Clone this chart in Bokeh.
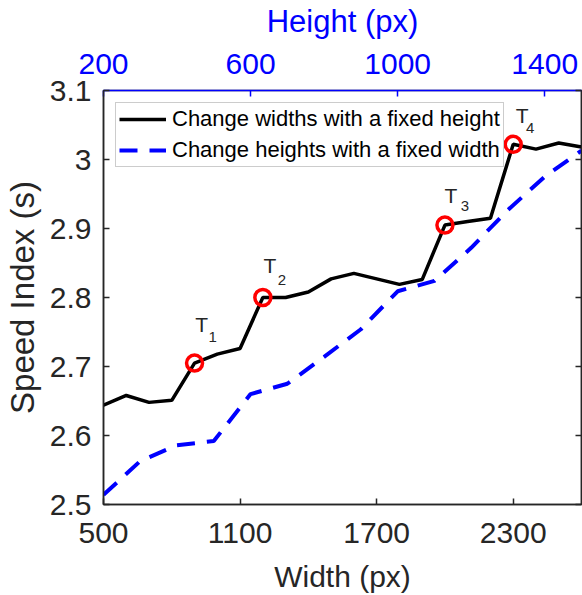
from bokeh.plotting import figure
from bokeh.models import (Range1d, LinearAxis, FixedTicker, Legend, LegendItem,
                          ColumnDataSource)
from bokeh.embed import file_html
from bokeh.resources import INLINE
from bokeh.core.properties import value

# ---------------- data ----------------
widths = [500, 600, 700, 800, 900, 1000, 1100, 1200, 1300, 1400, 1500,
          1600, 1700, 1800, 1900, 2000, 2100, 2200, 2300, 2400, 2500, 2600]
speed_width = [2.644, 2.658, 2.648, 2.651, 2.705, 2.718, 2.726, 2.800, 2.800,
               2.808, 2.827, 2.835, 2.827, 2.819, 2.826, 2.905, 2.910, 2.915,
               3.022, 3.015, 3.024, 3.018]

heights = [200, 300, 400, 500, 600, 700, 800, 900, 1000, 1100, 1200, 1300,
           1400, 1500]
speed_height = [2.514, 2.563, 2.586, 2.592, 2.660, 2.675, 2.714, 2.754, 2.809,
                2.824, 2.872, 2.927, 2.975, 3.013]

t_names = ["1", "2", "3", "4"]
t_widths = [900, 1200, 2000, 2300]

x_ticks = [500, 1100, 1700, 2300]
h_ticks = [200, 600, 1000, 1400]
y_ticks = [2.5, 2.6, 2.7, 2.8, 2.9, 3.0, 3.1]
y_tick_labels = ["2.5", "2.6", "2.7", "2.8", "2.9", "3", "3.1"]

series_labels = ["Change widths with a fixed height",
                 "Change heights with a fixed width"]
x_title = "Width (px)"
h_title = "Height (px)"
y_title = "Speed Index (s)"

# ---------------- style ----------------
FONT = "Liberation Sans"
AX = "#262626"
BLUE = "#0000FF"
RED = "#FF0000"

p = figure(width=582, height=595,
           x_range=Range1d(500, 2600), y_range=Range1d(2.5, 3.1),
           output_backend="svg", toolbar_location=None,
           min_border_left=102, min_border_right=1,
           min_border_top=88, min_border_bottom=88,
           x_axis_label=x_title, y_axis_label=y_title)
p.extra_x_ranges = {"h": Range1d(200, 1500)}
p.xgrid.visible = False
p.ygrid.visible = False
p.outline_line_color = AX
p.outline_line_width = 1.5
p.background_fill_color = "white"
p.border_fill_color = "white"


def style_axis(ax, color, ticks, standoff, label_standoff, label_size):
    ax.ticker = FixedTicker(ticks=ticks)
    ax.minor_tick_line_color = None
    ax.major_tick_in = 6
    ax.major_tick_out = 0
    ax.major_tick_line_color = color
    ax.major_tick_line_width = 1.5
    ax.axis_line_color = color
    ax.axis_line_width = 1.5
    ax.major_label_text_font = FONT
    ax.major_label_text_font_size = "30px"
    ax.major_label_text_color = color
    ax.major_label_standoff = standoff
    ax.axis_label_text_font = FONT
    ax.axis_label_text_font_size = label_size
    ax.axis_label_text_font_style = "normal"
    ax.axis_label_text_color = color
    ax.axis_label_standoff = label_standoff


style_axis(p.xaxis[0], AX, x_ticks, 18, 14, "30px")
style_axis(p.yaxis[0], AX, y_ticks, 12, 6, "33px")
p.yaxis[0].major_label_overrides = dict(zip(y_ticks, y_tick_labels))

top = LinearAxis(x_range_name="h", axis_label=h_title)
style_axis(top, BLUE, h_ticks, 17, 12, "31px")
p.add_layout(top, "above")

right = LinearAxis()
style_axis(right, AX, y_ticks, 0, 0, "30px")
right.major_label_text_font_size = "0px"
right.major_label_text_alpha = 0
p.add_layout(right, "right")

# ---------------- series ----------------
r_w = p.line(widths, speed_width, line_color="black", line_width=3.5)
r_h = p.line(heights, speed_height, x_range_name="h", line_color=BLUE,
             line_width=4, line_dash="18 12")

t_vals = [speed_width[widths.index(w)] for w in t_widths]
p.scatter(t_widths, t_vals, marker="circle", size=16, fill_color=None,
          line_color=RED, line_width=3.5)

lab = ColumnDataSource(dict(
    x=t_widths, y=t_vals, t=["T"] * len(t_names), sub=t_names,
    tdx=[7, 7, 6, 9], tdy=[-39, -32, -30, -29],
    sdx=[18, 19, 20, 17], sdy=[-26, -18, -19, -16]))
p.text(x="x", y="y", text="t", source=lab, x_offset="tdx", y_offset="tdy",
       text_align="center", text_baseline="middle",
       text_font=value(FONT), text_font_size="21px", text_color=AX)
p.text(x="x", y="y", text="sub", source=lab, x_offset="sdx", y_offset="sdy",
       text_align="center", text_baseline="middle",
       text_font=value(FONT), text_font_size="15px", text_color=AX)

legend = Legend(items=[LegendItem(label=series_labels[0], renderers=[r_w]),
                       LegendItem(label=series_labels[1], renderers=[r_h])],
                location="top_left")
legend.margin = 12
legend.padding = 3
legend.spacing = 5
legend.label_height = 26
legend.glyph_height = 26
legend.glyph_width = 47
legend.label_standoff = 6
legend.label_text_font = FONT
legend.label_text_font_size = "22px"
legend.label_text_color = "black"
legend.border_line_color = "#999999"
legend.border_line_width = 1.5
legend.background_fill_color = "white"
legend.background_fill_alpha = 1
p.add_layout(legend)

open("out.html", "w").write(file_html(p, INLINE))
